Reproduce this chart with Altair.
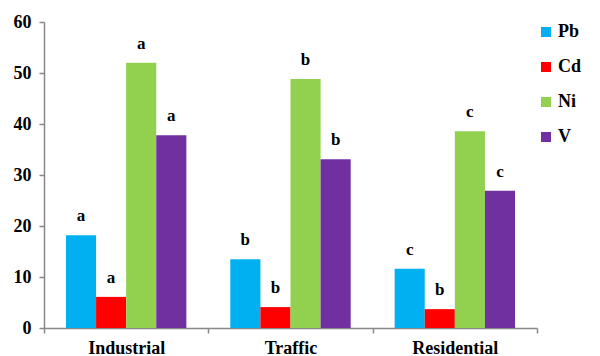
import altair as alt
import pandas as pd

# Mean metal concentrations by site type, with significance letters
sites = ["Industrial", "Traffic", "Residential"]
metals = ["Pb", "Cd", "Ni", "V"]
pb = [18.2, 13.5, 11.6]
cd = [6.1, 4.1, 3.7]
ni = [52.0, 48.8, 38.6]
v = [37.8, 33.1, 26.9]
pb_sig = ["a", "b", "c"]
cd_sig = ["a", "b", "b"]
ni_sig = ["a", "b", "c"]
v_sig = ["a", "b", "c"]
colors = ["#00B0F0", "#FF0000", "#92D050", "#7030A0"]

series = {"Pb": (pb, pb_sig), "Cd": (cd, cd_sig), "Ni": (ni, ni_sig), "V": (v, v_sig)}
rows = []
for m in metals:
    vals, sig = series[m]
    for s, val, g in zip(sites, vals, sig):
        rows.append({"site": s, "metal": m, "value": val, "sig": g})
df = pd.DataFrame(rows)

FONT = "Liberation Serif"

x = alt.X("site:N", sort=sites, title=None,
          scale=alt.Scale(paddingInner=0, paddingOuter=0),
          axis=alt.Axis(labelAngle=0, labelFontWeight="bold",
                        labelFontSize=18, labelColor="black", labelPadding=6,
                        domainColor="#888888", domainWidth=1.5,
                        tickColor="#888888", tickWidth=1.5, tickSize=5,
                        tickBand="extent"))
xo = alt.XOffset("metal:N", sort=metals,
                 scale=alt.Scale(paddingInner=0, paddingOuter=0.73))

base = alt.Chart(df)

bars = base.mark_bar().encode(
    x=x,
    xOffset=xo,
    y=alt.Y("value:Q", title=None,
            scale=alt.Scale(domain=[0, 60]),
            axis=alt.Axis(values=[0, 10, 20, 30, 40, 50, 60], grid=False,
                          labelFontWeight="bold", labelFontSize=18,
                          labelColor="black", labelPadding=8,
                          domainColor="#888888", domainWidth=1.5,
                          tickColor="#888888", tickWidth=1.5, tickSize=5)),
    color=alt.Color("metal:N", sort=metals,
                    scale=alt.Scale(domain=metals, range=colors),
                    legend=alt.Legend(title=None, orient="none", legendX=493, legendY=1,
                                      symbolType="square", symbolSize=100,
                                      symbolStrokeWidth=0,
                                      labelFontWeight="bold",
                                      labelFontSize=18, labelColor="black",
                                      rowPadding=17, labelOffset=3)),
)

letters = base.mark_text(fontWeight="bold", fontSize=17,
                         color="black", dy=-19).encode(
    x=x,
    xOffset=xo,
    y="value:Q",
    text="sig:N",
)

chart = (bars + letters).properties(
    width=493, height=306,
    autosize=alt.AutoSizeParams(type="none"),
    padding={"left": 44, "top": 22, "right": 63, "bottom": 28},
).configure(font=FONT).configure_view(stroke=None)

chart.save("out.html", embed_options={"renderer": "svg", "actions": False})
